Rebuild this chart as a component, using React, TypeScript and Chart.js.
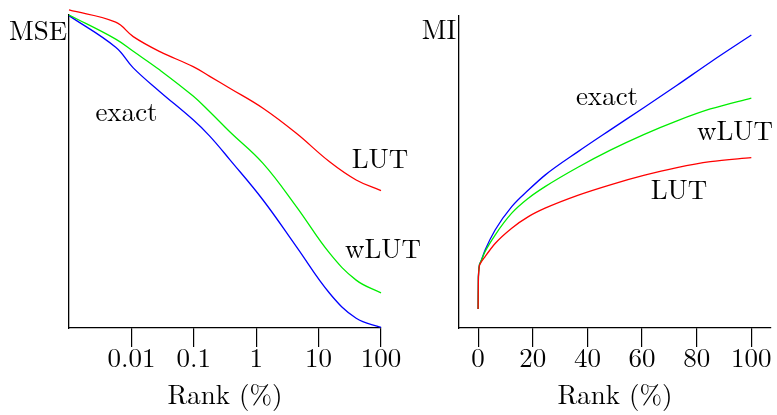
import React, { useEffect, useRef } from "react";
import { Chart, registerables } from "chart.js";

Chart.register(...registerables);

// Left panel: MSE vs Rank (%) on a log scale
const mseRank = [0.001, 0.0056, 0.0107, 0.0286, 0.0976, 0.18, 0.377, 1.285, 4.4, 15, 40, 100];
const mseLUT = [1.016, 0.977, 0.931, 0.883, 0.835, 0.804, 0.766, 0.702, 0.622, 0.531, 0.473, 0.439];
const mseWLUT = [1.0, 0.923, 0.884, 0.824, 0.741, 0.691, 0.627, 0.526, 0.388, 0.239, 0.153, 0.112];
const mseExact = [0.998, 0.897, 0.831, 0.755, 0.665, 0.613, 0.538, 0.409, 0.26, 0.111, 0.031, 0.002];
const mseTicks = [0.01, 0.1, 1, 10, 100];
const mseTickLabels = ["0.01", "0.1", "1", "10", "100"];

// Right panel: MI vs Rank (%) on a linear scale
const miRank = [0, 0.1, 0.73, 2.56, 6.22, 12.3, 18.4, 24.5, 36.7, 48.4, 60.6, 72.8, 85, 100];
const miExact = [0.061, 0.164, 0.208, 0.25, 0.314, 0.389, 0.442, 0.49, 0.566, 0.635, 0.706, 0.778, 0.852, 0.939];
const miWLUT = [0.061, 0.164, 0.208, 0.245, 0.298, 0.368, 0.416, 0.453, 0.516, 0.57, 0.62, 0.664, 0.702, 0.737];
const miLUT = [0.061, 0.16, 0.205, 0.229, 0.271, 0.32, 0.357, 0.384, 0.426, 0.459, 0.489, 0.514, 0.533, 0.546];
const miTicks = [0, 20, 40, 60, 80, 100];

const seriesNames = ["LUT", "wLUT", "exact"];
const seriesColors = ["#ff0000", "#00ee00", "#0000ff"];

const FONT = '"Latin Modern Roman"';
const FS = 27;

type Label = { text: string; x: number; y: number };

function labelPlugin(labels: Label[]) {
  return {
    id: "curveLabels",
    afterDraw(chart: any) {
      const ctx = chart.ctx;
      ctx.save();
      ctx.font = `${FS}px ${FONT}`;
      ctx.fillStyle = "#000";
      ctx.textAlign = "center";
      ctx.textBaseline = "alphabetic";
      labels.forEach((l) => ctx.fillText(l.text, l.x, l.y));
      ctx.restore();
    },
  };
}

function makeConfig(opts: {
  xs: number[];
  series: number[][];
  xType: "logarithmic" | "linear";
  xMin: number;
  xMax: number;
  ticks: number[];
  tickLabel: (v: number) => string;
  yAxisWidth: number;
  padTop: number;
  padRight: number;
  monotone: boolean;
  labels: Label[];
}) {
  const datasets = opts.series.map((vals, i) => ({
    label: seriesNames[i],
    data: opts.xs.map((x, j) => ({ x, y: vals[j] })),
    borderColor: seriesColors[i],
    borderWidth: 1.3,
    pointRadius: 0,
    fill: false,
    cubicInterpolationMode: opts.monotone ? ("monotone" as const) : ("default" as const),
    tension: opts.monotone ? 0 : 0.4,
    clip: false as any,
  }));
  return {
    type: "line" as const,
    data: { datasets },
    options: {
      animation: false as const,
      responsive: false,
      maintainAspectRatio: false,
      layout: { padding: { top: opts.padTop, right: opts.padRight, left: 0, bottom: 0 } },
      plugins: { legend: { display: false }, tooltip: { enabled: false } },
      scales: {
        x: {
          type: opts.xType,
          min: opts.xMin,
          max: opts.xMax,
          afterBuildTicks: (scale: any) => {
            scale.ticks = opts.ticks.map((v) => ({ value: v }));
          },
          afterFit: (scale: any) => {
            scale.height = 87;
          },
          grid: {
            display: true,
            drawOnChartArea: false,
            drawTicks: true,
            tickLength: 19,
            color: "#000",
            lineWidth: 1.2,
          },
          border: { display: true, color: "#000", width: 1.3 },
          ticks: {
            autoSkip: false,
            maxRotation: 0,
            padding: -4,
            color: "#000",
            font: { family: FONT, size: FS },
            callback: (v: any) => opts.tickLabel(Number(v)),
          },
          title: {
            display: true,
            text: "Rank (%)",
            color: "#000",
            font: { family: FONT, size: FS },
            padding: { top: 0, bottom: 3 },
          },
        },
        y: {
          type: "linear" as const,
          min: 0,
          max: 1,
          afterFit: (scale: any) => {
            scale.width = opts.yAxisWidth;
          },
          grid: { display: false },
          border: { display: true, color: "#000", width: 1.3 },
          ticks: { display: false },
        },
      },
    },
    plugins: [labelPlugin(opts.labels)],
  };
}

function ChartCanvas({ config, left, width }: { config: any; left: number; width: number }) {
  const ref = useRef<HTMLCanvasElement | null>(null);
  useEffect(() => {
    if (!ref.current) return;
    const chart = new Chart(ref.current, config);
    return () => chart.destroy();
  }, [config]);
  return (
    <canvas
      ref={ref}
      width={width}
      height={415}
      style={{ position: "absolute", left, top: 0, width, height: 415 }}
    />
  );
}

const leftConfig = makeConfig({
  xs: mseRank,
  series: [mseLUT, mseWLUT, mseExact],
  xType: "logarithmic",
  xMin: 0.001,
  xMax: 100,
  ticks: mseTicks,
  tickLabel: (v) => {
    const i = mseTicks.findIndex((t) => Math.abs(t - v) / t < 1e-6);
    return i >= 0 ? mseTickLabels[i] : "";
  },
  yAxisWidth: 69,
  padTop: 15,
  padRight: 49,
  monotone: false,
  labels: [
    { text: "MSE", x: 38, y: 40 },
    { text: "exact", x: 126.5, y: 121 },
    { text: "LUT", x: 380, y: 168 },
    { text: "wLUT", x: 383, y: 258 },
  ],
});

const rightConfig = makeConfig({
  xs: miRank,
  series: [miLUT, miWLUT, miExact],
  xType: "linear",
  xMin: -7,
  xMax: 107.2,
  ticks: miTicks,
  tickLabel: (v) => String(v),
  yAxisWidth: 39,
  padTop: 16,
  padRight: 6,
  monotone: true,
  labels: [
    { text: "MI", x: 19, y: 39 },
    { text: "exact", x: 187, y: 105 },
    { text: "wLUT", x: 315, y: 140 },
    { text: "LUT", x: 259, y: 199 },
  ],
});

export default function App() {
  return (
    <div style={{ position: "absolute", left: 0, top: 0, width: 777, height: 415, background: "#fff" }}>
      <ChartCanvas config={leftConfig} left={0} width={430} />
      <ChartCanvas config={rightConfig} left={420} width={357} />
    </div>
  );
}
